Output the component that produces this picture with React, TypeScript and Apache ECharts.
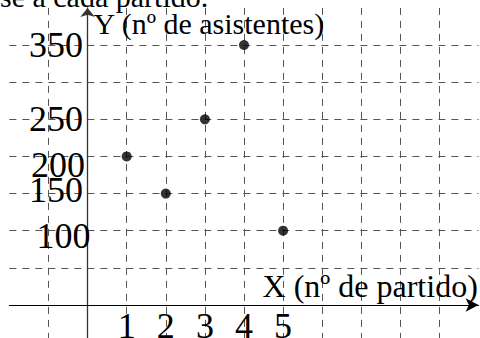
import React, { useEffect, useRef } from "react";
import * as echarts from "echarts";

// Match number vs. attendance
const matchNumbers = [1, 2, 3, 4, 5];
const attendees = [200, 150, 250, 350, 100];

// Tick labels that are printed on each axis
const xTickLabels = ["1", "2", "3", "4", "5"];
const yTickLabels = ["100", "150", "200", "250", "350"];

const SERIF = "'Liberation Serif', 'Times New Roman', serif";
const GRID = "#555";
const NONE = "rgba(0,0,0,0)";

// Plot extents and the pixel placement of the grid
const X_MIN = -2;
const X_MAX = 10;
const Y_MIN = -50;
const Y_MAX = 400;
const GRID_LEFT = 9.4;
const GRID_RIGHT = 1.4;
const GRID_TOP = 7.9;
const GRID_BOTTOM = -4.1;
const W = 480;
const H = 338;

// hand-set nudges of the printed y labels: [top, right, bottom, left] padding
const yLabelPadding: Record<string, number[]> = {
  "350": [0, 7.6, 0, 0],
  "250": [0, 7.6, 1, 0],
  "200": [18, 5.6, 0, 0],
  "150": [0, 7.6, 8, 0],
  "100": [10, 0, 0, 0],
};

export default function App() {
  const ref = useRef<HTMLDivElement>(null);

  useEffect(() => {
    if (!ref.current) return;
    const chart = echarts.init(ref.current, undefined, { renderer: "svg" });

    // split line colours per tick: hide the outer edges and the lines under the axes
    const xSplitColors = [NONE, GRID, NONE, GRID, GRID, GRID, GRID, GRID, GRID, GRID, GRID, GRID, NONE];
    const ySplitColors = [NONE, NONE, GRID, GRID, GRID, GRID, GRID, GRID, GRID, NONE];

    // shift each axis from the grid edge to the other axis' zero
    const plotW = W - GRID_LEFT - GRID_RIGHT;
    const plotH = H - GRID_TOP - GRID_BOTTOM;
    const yAxisOffset = -((0 - X_MIN) / (X_MAX - X_MIN)) * plotW;
    const xAxisOffset = -((0 - Y_MIN) / (Y_MAX - Y_MIN)) * plotH;

    const yRich: Record<string, object> = {};
    yTickLabels.forEach((t) => {
      yRich["v" + t] = {
        fontFamily: SERIF,
        fontSize: 36,
        color: "#000",
        padding: yLabelPadding[t] || [0, 0, 0, 0],
      };
    });

    chart.setOption({
      animation: false,
      backgroundColor: "#fff",
      grid: {
        left: GRID_LEFT,
        right: GRID_RIGHT,
        top: GRID_TOP,
        bottom: GRID_BOTTOM,
        containLabel: false,
        outerBoundsMode: "none",
      },
      graphic: [
        {
          type: "text",
          left: 0,
          top: -19,
          style: {
            text: "se a cada partido.",
            font: `30px ${SERIF}`,
            fill: "#000",
          },
        },
      ],
      xAxis: {
        type: "value",
        min: X_MIN,
        max: X_MAX,
        interval: 1,
        position: "bottom",
        offset: xAxisOffset,
        name: "X (nº de partido)",
        nameLocation: "end",
        nameGap: -216,
        nameMoveOverlap: false,
        nameTextStyle: {
          fontFamily: SERIF,
          fontSize: 32,
          color: "#000",
          align: "left",
          verticalAlign: "bottom",
          lineHeight: 38,
        },
        axisLine: {
          onZero: false,
          symbol: ["none", "arrow"],
          symbolSize: [10, 13],
          lineStyle: { color: "#000", width: 1.2 },
        },
        axisTick: { show: false },
        axisLabel: {
          fontFamily: SERIF,
          fontSize: 36,
          color: "#000",
          margin: 3,
          formatter: (v: number) => (xTickLabels.includes(String(v)) ? String(v) : ""),
        },
        splitLine: {
          show: true,
          lineStyle: { color: xSplitColors, width: 1, type: [7, 6] },
        },
      },
      yAxis: {
        type: "value",
        min: Y_MIN,
        max: Y_MAX,
        interval: 50,
        position: "left",
        offset: yAxisOffset,
        name: "Y (nº de asistentes)",
        nameLocation: "end",
        nameGap: -16,
        nameMoveOverlap: false,
        nameTextStyle: {
          fontFamily: SERIF,
          fontSize: 30,
          color: "#000",
          align: "left",
          verticalAlign: "middle",
          padding: [0, 0, 0, 6],
        },
        axisLine: {
          onZero: false,
          symbol: ["none", "arrow"],
          symbolSize: [11, 9],
          lineStyle: { color: "#333", width: 1.3 },
        },
        axisTick: { show: false },
        axisLabel: {
          fontFamily: SERIF,
          fontSize: 36,
          color: "#000",
          margin: -3,
          formatter: (v: number) =>
            yTickLabels.includes(String(v)) ? `{v${v}|${v}}` : "",
          rich: yRich,
        },
        splitLine: {
          show: true,
          lineStyle: { color: ySplitColors, width: 1, type: [7, 6] },
        },
      },
      series: [
        {
          type: "scatter",
          data: matchNumbers.map((m, i) => [m, attendees[i]]),
          symbol: "circle",
          symbolSize: 10,
          itemStyle: { color: "#000" },
          z: 5,
        },
      ],
    });

    return () => chart.dispose();
  }, []);

  return <div ref={ref} style={{ width: W, height: H, position: "fixed", left: 0, top: 0 }} />;
}
